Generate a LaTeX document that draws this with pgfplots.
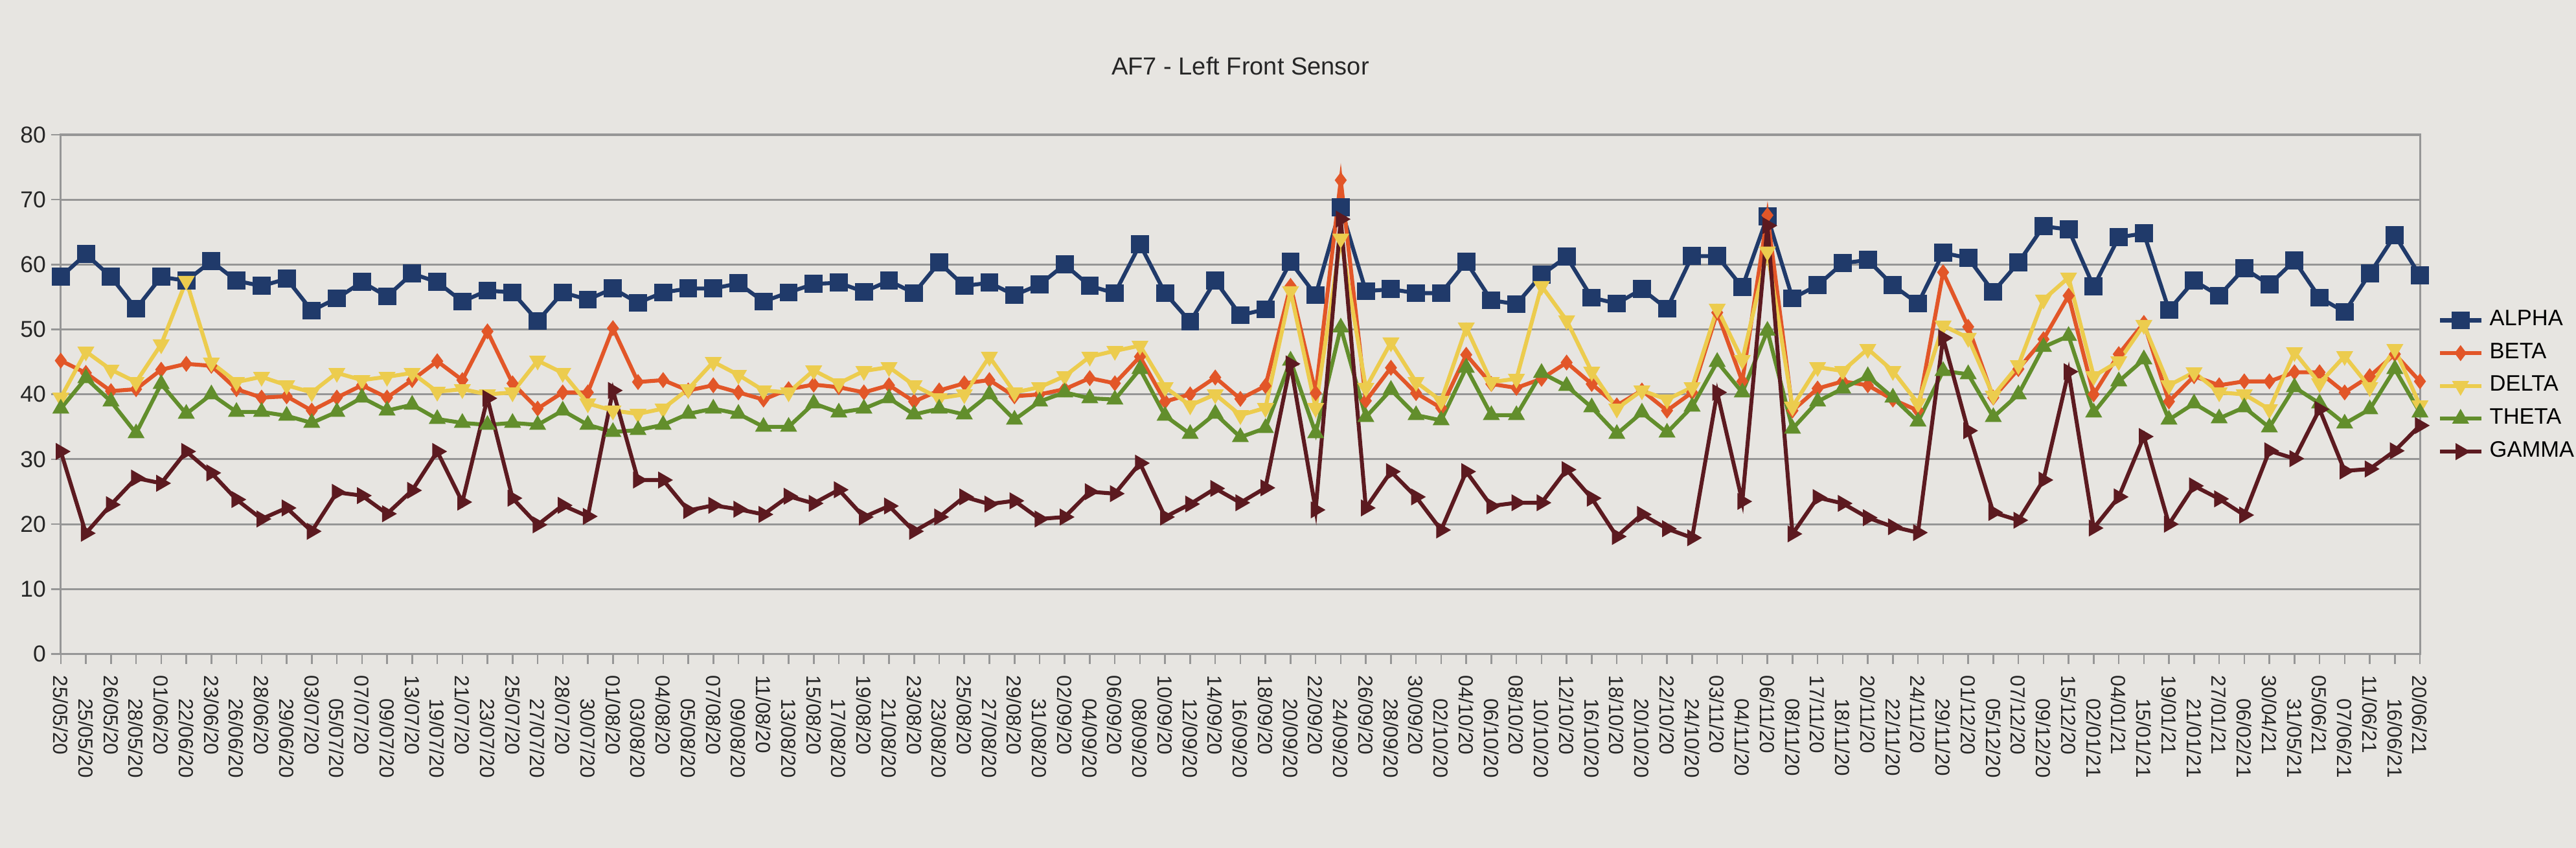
\documentclass[border=0pt]{standalone}
\usepackage{fontspec}
\setmainfont{Liberation Sans}
\usepackage{pgfplots}
\usepackage{pgfplotstable}
\pgfplotsset{compat=1.18}
\definecolor{bgc}{RGB}{231,229,225}
\definecolor{cA}{RGB}{32,58,106}
\definecolor{cB}{RGB}{226,86,40}
\definecolor{cD}{RGB}{236,204,78}
\definecolor{cT}{RGB}{98,142,44}
\definecolor{cG}{RGB}{92,26,32}
\definecolor{gridc}{RGB}{150,150,150}
\newcommand{\lo}[1]{\hspace*{7pt}#1}

\pgfplotstableread{
i A B D T G
1 58.1 45.2 39.5 37.8 31.2
2 61.6 43.3 46.6 42.5 18.6
3 58.1 40.5 43.8 38.9 23.0
4 53.2 40.8 41.9 34.0 27.1
5 58.1 43.8 47.7 41.6 26.3
6 57.5 44.7 57.5 37.0 31.2
7 60.5 44.4 44.9 40.0 27.9
8 57.5 40.8 41.9 37.3 23.8
9 56.7 39.5 42.7 37.3 20.8
10 57.8 39.7 41.4 36.7 22.5
11 52.9 37.5 40.3 35.6 18.9
12 54.8 39.5 43.3 37.3 24.9
13 57.3 41.4 42.2 39.5 24.4
14 55.1 39.5 42.7 37.5 21.6
15 58.6 42.2 43.3 38.4 25.2
16 57.3 45.1 40.4 36.2 31.2
17 54.3 42.2 40.8 35.6 23.4
18 56.0 49.7 40.0 35.3 39.4
19 55.7 41.7 40.3 35.6 24.0
20 51.3 37.8 45.2 35.3 19.9
21 55.7 40.3 43.3 37.5 22.9
22 54.6 40.3 38.6 35.3 21.2
23 56.3 50.2 37.5 34.2 40.6
24 54.1 41.9 37.0 34.5 26.8
25 55.7 42.2 37.8 35.3 26.8
26 56.3 40.6 40.8 37.0 22.1
27 56.3 41.4 45.0 37.8 22.9
28 57.1 40.3 43.0 37.0 22.3
29 54.3 39.2 40.6 35.0 21.5
30 55.7 40.8 40.3 35.0 24.3
31 57.0 41.5 43.7 38.6 23.2
32 57.2 41.1 41.7 37.2 25.3
33 55.8 40.3 43.6 37.8 21.1
34 57.5 41.4 44.2 39.4 22.8
35 55.6 38.9 41.4 36.9 18.9
36 60.3 40.6 39.4 37.8 21.1
37 56.7 41.7 40.0 36.9 24.2
38 57.2 42.2 45.8 40.0 23.1
39 55.3 39.7 40.3 36.1 23.6
40 56.9 40.0 41.1 38.9 20.8
41 60.0 40.8 42.8 40.3 21.1
42 56.7 42.5 45.8 39.4 25.0
43 55.6 41.7 46.7 39.2 24.7
44 63.1 45.8 47.5 43.9 29.4
45 55.6 38.9 41.1 36.7 21.1
46 51.2 40.0 38.3 33.9 23.1
47 57.5 42.6 40.0 37.0 25.5
48 52.2 39.3 36.8 33.4 23.3
49 53.1 41.3 37.9 34.8 25.6
50 60.4 56.7 55.9 45.2 44.7
51 55.3 40.2 37.9 34.0 22.2
52 68.8 73.0 64.0 50.3 67.0
53 55.9 39.0 41.0 36.5 22.5
54 56.2 44.1 48.0 40.7 28.1
55 55.6 40.2 41.9 36.8 24.2
56 55.6 37.9 39.0 36.0 19.1
57 60.4 46.1 50.3 44.1 28.1
58 54.5 41.6 41.9 36.8 22.8
59 53.9 41.0 42.4 36.8 23.3
60 58.4 42.4 56.7 43.3 23.3
61 61.2 44.9 51.4 41.3 28.4
62 54.9 41.6 43.5 38.0 24.0
63 54.0 38.3 37.8 33.9 18.1
64 56.2 40.6 40.6 37.2 21.5
65 53.2 37.5 39.2 34.1 19.3
66 61.3 40.3 41.1 38.1 17.9
67 61.3 52.6 53.2 45.0 40.3
68 56.5 42.0 45.3 40.3 23.5
69 67.4 67.6 62.0 49.8 66.0
70 54.8 37.5 38.1 34.7 18.5
71 56.8 40.9 44.2 38.9 24.1
72 60.2 42.0 43.6 40.9 23.2
73 60.7 41.4 47.0 42.8 21.0
74 56.8 39.2 43.6 39.5 19.6
75 54.0 37.5 38.6 35.8 18.7
76 61.8 58.8 50.6 43.6 48.7
77 61.0 50.4 48.7 43.1 34.4
78 55.8 39.5 39.8 36.5 21.8
79 60.3 43.9 44.5 40.0 20.6
80 65.9 48.5 54.6 47.3 26.8
81 65.4 55.2 58.0 49.0 43.5
82 56.6 40.0 42.8 37.2 19.4
83 64.2 46.2 45.1 42.0 24.2
84 64.8 51.0 50.7 45.4 33.5
85 53.0 38.9 41.4 36.1 20.0
86 57.5 42.8 43.4 38.6 25.9
87 55.2 41.4 40.3 36.3 23.9
88 59.4 42.0 40.0 38.0 21.4
89 56.9 42.0 37.7 34.9 31.3
90 60.6 43.4 46.5 41.1 30.1
91 54.9 43.4 41.7 38.6 37.7
92 52.7 40.3 45.9 35.5 28.2
93 58.6 42.8 41.1 37.7 28.5
94 64.5 46.2 47.0 43.9 31.3
95 58.3 42.0 38.3 37.2 35.2
}\data

\begin{document}
\begin{tikzpicture}
\fill[bgc] (0,0) rectangle (784pt,258pt);
\useasboundingbox (0,0) rectangle (784pt,258pt);
\begin{axis}[
 at={(18.5pt,59pt)}, anchor=south west,
 scale only axis, width=718pt, height=158pt,
 xmin=1, xmax=95, ymin=0, ymax=80,
 xtick={1,...,95},
 xticklabels={25/05/20,\lo{25/05/20},26/05/20,\lo{28/05/20},01/06/20,\lo{22/06/20},23/06/20,\lo{26/06/20},28/06/20,\lo{29/06/20},
 03/07/20,\lo{05/07/20},07/07/20,\lo{09/07/20},13/07/20,\lo{19/07/20},21/07/20,\lo{23/07/20},25/07/20,\lo{27/07/20},
 28/07/20,\lo{30/07/20},01/08/20,\lo{03/08/20},04/08/20,\lo{05/08/20},07/08/20,\lo{09/08/20},11/08/20,\lo{13/08/20},
 15/08/20,\lo{17/08/20},19/08/20,\lo{21/08/20},23/08/20,\lo{23/08/20},25/08/20,\lo{27/08/20},29/08/20,\lo{31/08/20},
 02/09/20,\lo{04/09/20},06/09/20,\lo{08/09/20},10/09/20,\lo{12/09/20},14/09/20,\lo{16/09/20},18/09/20,\lo{20/09/20},
 22/09/20,\lo{24/09/20},26/09/20,\lo{28/09/20},30/09/20,\lo{02/10/20},04/10/20,\lo{06/10/20},08/10/20,\lo{10/10/20},
 12/10/20,\lo{16/10/20},18/10/20,\lo{20/10/20},22/10/20,\lo{24/10/20},03/11/20,\lo{04/11/20},06/11/20,\lo{08/11/20},
 17/11/20,\lo{18/11/20},20/11/20,\lo{22/11/20},24/11/20,\lo{29/11/20},01/12/20,\lo{05/12/20},07/12/20,\lo{09/12/20},
 15/12/20,\lo{02/01/21},04/01/21,\lo{15/01/21},19/01/21,\lo{21/01/21},27/01/21,\lo{06/02/21},30/04/21,\lo{31/05/21},
 05/06/21,\lo{07/06/21},11/06/21,\lo{16/06/21},20/06/21},
 ytick={0,10,...,80},
 ymajorgrids, grid style={gridc, line width=0.6pt},
 axis line style={gridc, line width=0.6pt},
 tick style={gridc, line width=0.5pt},
 tick align=outside, major tick length=3pt,
 xtick pos=bottom, ytick pos=left,
 xticklabel style={rotate=-90, anchor=west, font=\fontsize{6.2}{7}\selectfont, text=black!85},
 yticklabel style={font=\fontsize{7}{8}\selectfont, text=black!85, xshift=2pt},
 /pgf/number format/assume math mode=true,
 title={AF7 - Left Front Sensor},
 title style={at={(0.5,1)}, anchor=center, yshift=15pt, font=\fontsize{7.5}{9}\selectfont, text=black!85},
 legend style={at={(1.006,0.516)}, anchor=west, draw=none, fill=none, font=\fontsize{6.8}{8}\selectfont, row sep=-0.2pt, inner sep=1pt},
 legend cell align=left,
 legend image code/.code={\draw[mark repeat=2,mark phase=2] plot coordinates {(0cm,0cm) (0.22cm,0cm) (0.44cm,0cm)};},
 every axis plot/.append style={line width=1.2pt},
]
\addplot[cA, mark=square*, mark size=2.6pt, mark options={solid, line width=0.3pt}] table[x=i, y=A] {\data};
\addlegendentry{ALPHA}
\addplot[cB, mark=diamond*, mark size=2.2pt, mark options={solid, line width=0.3pt}] table[x=i, y=B] {\data};
\addlegendentry{BETA}
\addplot[cD, mark=triangle*, mark size=2.7pt, mark options={solid, rotate=180, line width=0.3pt}] table[x=i, y=D] {\data};
\addlegendentry{DELTA}
\addplot[cT, mark=triangle*, mark size=2.7pt, mark options={solid, line width=0.3pt}] table[x=i, y=T] {\data};
\addlegendentry{THETA}
\addplot[cG, mark=triangle*, mark size=2.7pt, mark options={solid, rotate=-90, line width=0.3pt}] table[x=i, y=G] {\data};
\addlegendentry{GAMMA}
\end{axis}
\end{tikzpicture}
\end{document}
